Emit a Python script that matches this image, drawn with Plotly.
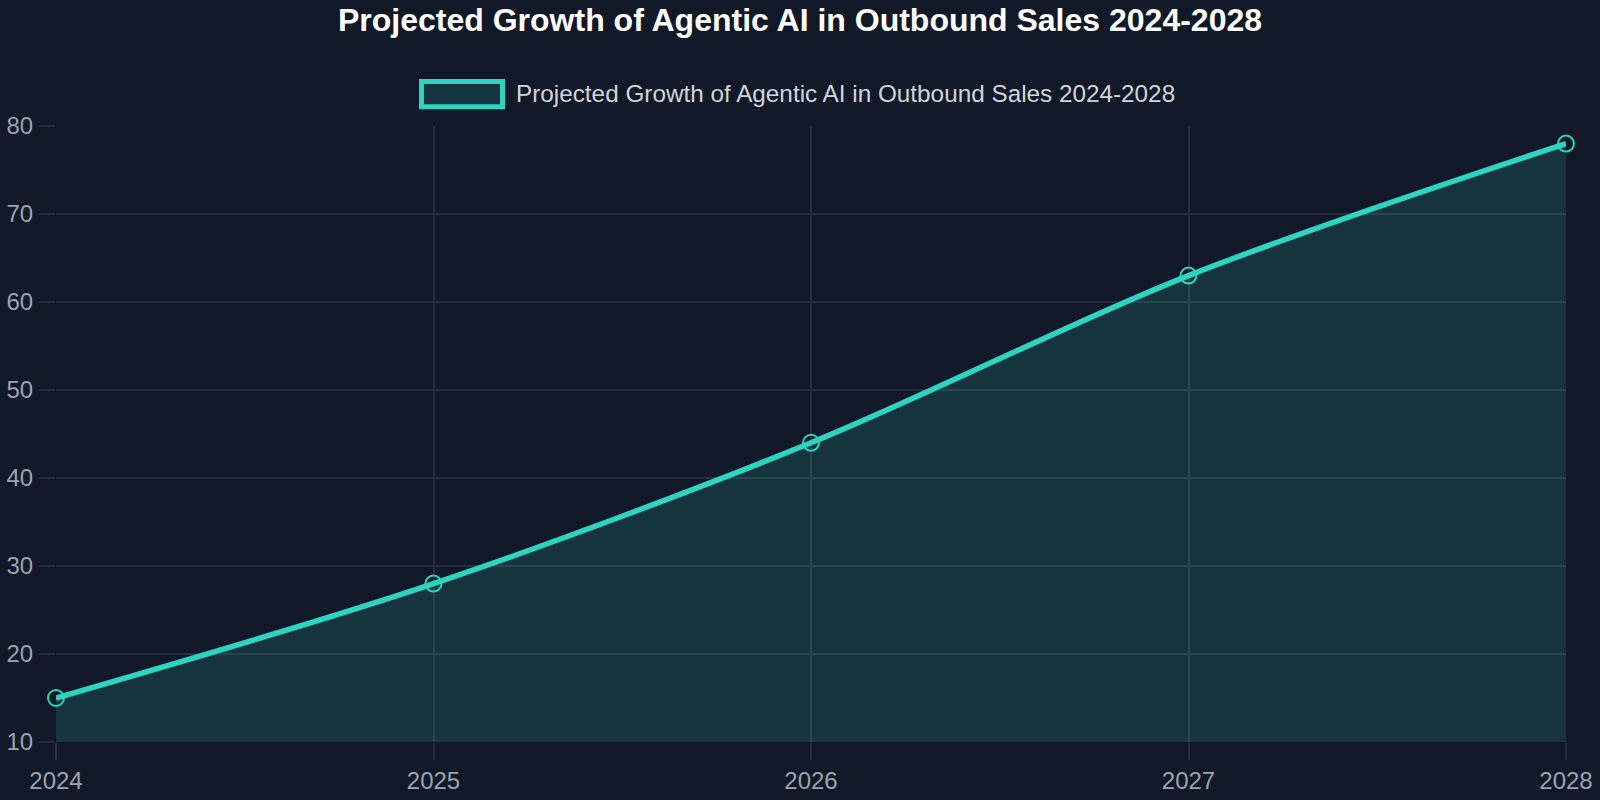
import plotly.graph_objects as go

years = [2024, 2025, 2026, 2027, 2028]
values = [15, 28, 44, 63, 78]
series_name = "Projected Growth of Agentic AI in Outbound Sales 2024-2028"
title_text = "Projected Growth of Agentic AI in Outbound Sales 2024-2028"
y_ticks = [10, 20, 30, 40, 50, 60, 70, 80]

BG = "#111827"
GRID = "#262e3d"
TEAL = "#2dd4bf"
FILL = "rgba(45,212,191,0.15)"
FONT = "Liberation Sans, Arial, sans-serif"

W, H = 1600, 800
L, R, T, B = 56, 34, 126, 58
pw, ph = W - L - R, H - T - B

def px2x(px):
    return (px - L) / pw

def px2y(py):
    return (H - B - py) / ph

fig = go.Figure()
fig.add_trace(go.Scatter(
    x=years, y=values, name=series_name,
    mode="lines+markers",
    line=dict(color=TEAL, width=5.5, shape="spline", smoothing=0.9),
    marker=dict(symbol="circle-open", size=16, color=TEAL, line=dict(width=2, color=TEAL)),
    fill="tozeroy", fillcolor=FILL,
    showlegend=False, cliponaxis=False,
))

# legend box + label
fig.add_shape(type="rect", xref="paper", yref="paper",
              x0=px2x(421.5), x1=px2x(502.5), y0=px2y(106.8), y1=px2y(81.5),
              line=dict(color=TEAL, width=5), fillcolor="rgba(45,212,191,0.15)", layer="above")
fig.add_annotation(xref="paper", yref="paper", x=px2x(514), y=px2y(93.5),
                   xanchor="left", yanchor="middle", text=series_name, showarrow=False,
                   font=dict(family=FONT, size=24.3, color="#d1d5db"))

fig.update_layout(
    width=W, height=H,
    margin=dict(l=L, r=R, t=T, b=B, autoexpand=False),
    paper_bgcolor=BG, plot_bgcolor=BG,
    title=dict(text="<b>" + title_text + "</b>", x=0.5, xanchor="center", xref="container",
               y=1 - 19.5 / H, yanchor="middle", yref="container",
               font=dict(family=FONT, size=32, color="#ffffff")),
    font=dict(family=FONT, color="#9ca3af"),
    xaxis=dict(range=[2024, 2028], tickvals=years, ticktext=[str(y) for y in years],
               showgrid=True, gridcolor=GRID, gridwidth=2, zeroline=False,
               ticks="outside", ticklen=17, tickcolor=GRID, tickwidth=2,
               showline=False, automargin=False,
               tickfont=dict(size=24, color="#9ca3af", family=FONT),
               ticklabelstandoff=0),
    yaxis=dict(range=[10, 80], tickvals=y_ticks,
               showgrid=True, gridcolor=GRID, gridwidth=2, zeroline=False,
               ticks="outside", ticklen=16, tickcolor=GRID, tickwidth=2,
               showline=False, automargin=False,
               tickfont=dict(size=24, color="#9ca3af", family=FONT),
               ticklabelstandoff=1),
)
fig.write_html("out.html")
